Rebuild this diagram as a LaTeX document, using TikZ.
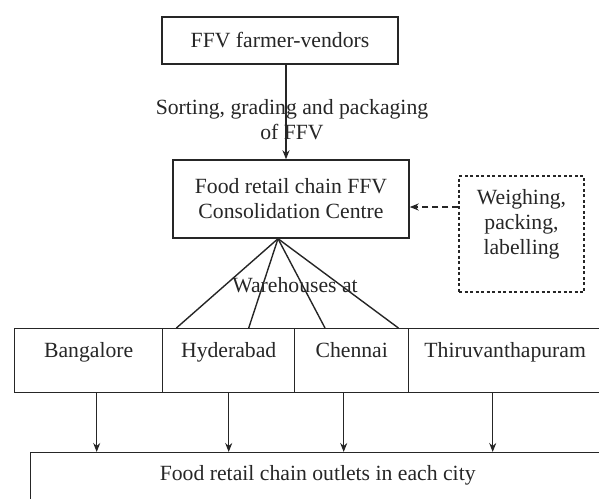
\documentclass[tikz,border=0pt]{standalone}
\usepackage{fontspec}
\setmainfont{Liberation Serif}
\usetikzlibrary{arrows.meta,calc}
\begin{document}
\begin{tikzpicture}[x=1pt,y=-1pt,
  font=\fontsize{21.7}{25}\selectfont,
  line width=1.4pt, draw=black!85, text=black!85,
  box/.style={draw, inner sep=0pt},
  citybox/.style={draw, inner sep=0pt, anchor=north west, minimum height=64pt, text height=29pt, text depth=35pt},
  dbox/.style={draw, inner sep=0pt, line width=1.2pt, dash pattern=on 3pt off 2.5pt},
  arr/.style={-{Stealth[length=9pt,width=7pt]}},
  txt/.style={align=center, inner sep=0pt}]
\useasboundingbox (0,0) rectangle (599,498);
\clip (0,0) rectangle (599,498);

\node[box, minimum width=236pt, minimum height=47pt] (farmer) at (280,40.5) {FFV farmer-vendors};
\node[box, minimum width=236pt, minimum height=78pt, align=center] (cc) at (291,199) {Food retail chain FFV\\Consolidation Centre};
\node[dbox] (wpl) at (521.5,234) {\parbox[t][116pt][t]{125pt}{\centering\rule{0pt}{28pt}Weighing,\\packing,\\labelling}};

\draw[arr] ([xshift=6pt]farmer.south) -- ([xshift=6pt]farmer.south |- cc.north);
\node[txt] (sortlbl) at (292,119.5) {Sorting, grading and packaging\\of FFV};

\draw[arr, dash pattern=on 6pt off 4pt] ([yshift=27pt]wpl.west) -- ([yshift=27pt]wpl.west -| cc.east);

\node[citybox, minimum width=148pt] (bang) at (14,328) {Bangalore};
\node[citybox, minimum width=132pt] (hyd) at (162,328) {Hyderabad};
\node[citybox, minimum width=114pt] (chen) at (294,328) {Chennai};
\node[citybox, minimum width=193pt] (thiru) at (408,328) {Thiruvanthapuram};

\coordinate (apex) at ([xshift=-13pt]cc.south);
\draw (apex) -- ([xshift=13pt]bang.north east);
\draw (apex) -- ([xshift=20pt]hyd.north);
\draw (apex) -- ([xshift=31pt]chen.north west);
\draw (apex) -- ([xshift=-11pt]chen.north east);
\node[txt] (wlbl) at (295,285) {Warehouses at};

\node[box, anchor=north west, minimum width=574pt, minimum height=70pt, text height=28pt, text depth=42pt] (outlets) at (30,452) {Food retail chain outlets in each city};

\draw[arr] ([xshift=8pt]bang.south) -- ([xshift=8pt]bang.south |- outlets.north);
\draw[arr] (hyd.south) -- (hyd.south |- outlets.north);
\draw[arr] ([xshift=-8pt]chen.south) -- ([xshift=-8pt]chen.south |- outlets.north);
\draw[arr] ([xshift=-12.5pt]thiru.south) -- ([xshift=-12.5pt]thiru.south |- outlets.north);
\end{tikzpicture}
\end{document}
